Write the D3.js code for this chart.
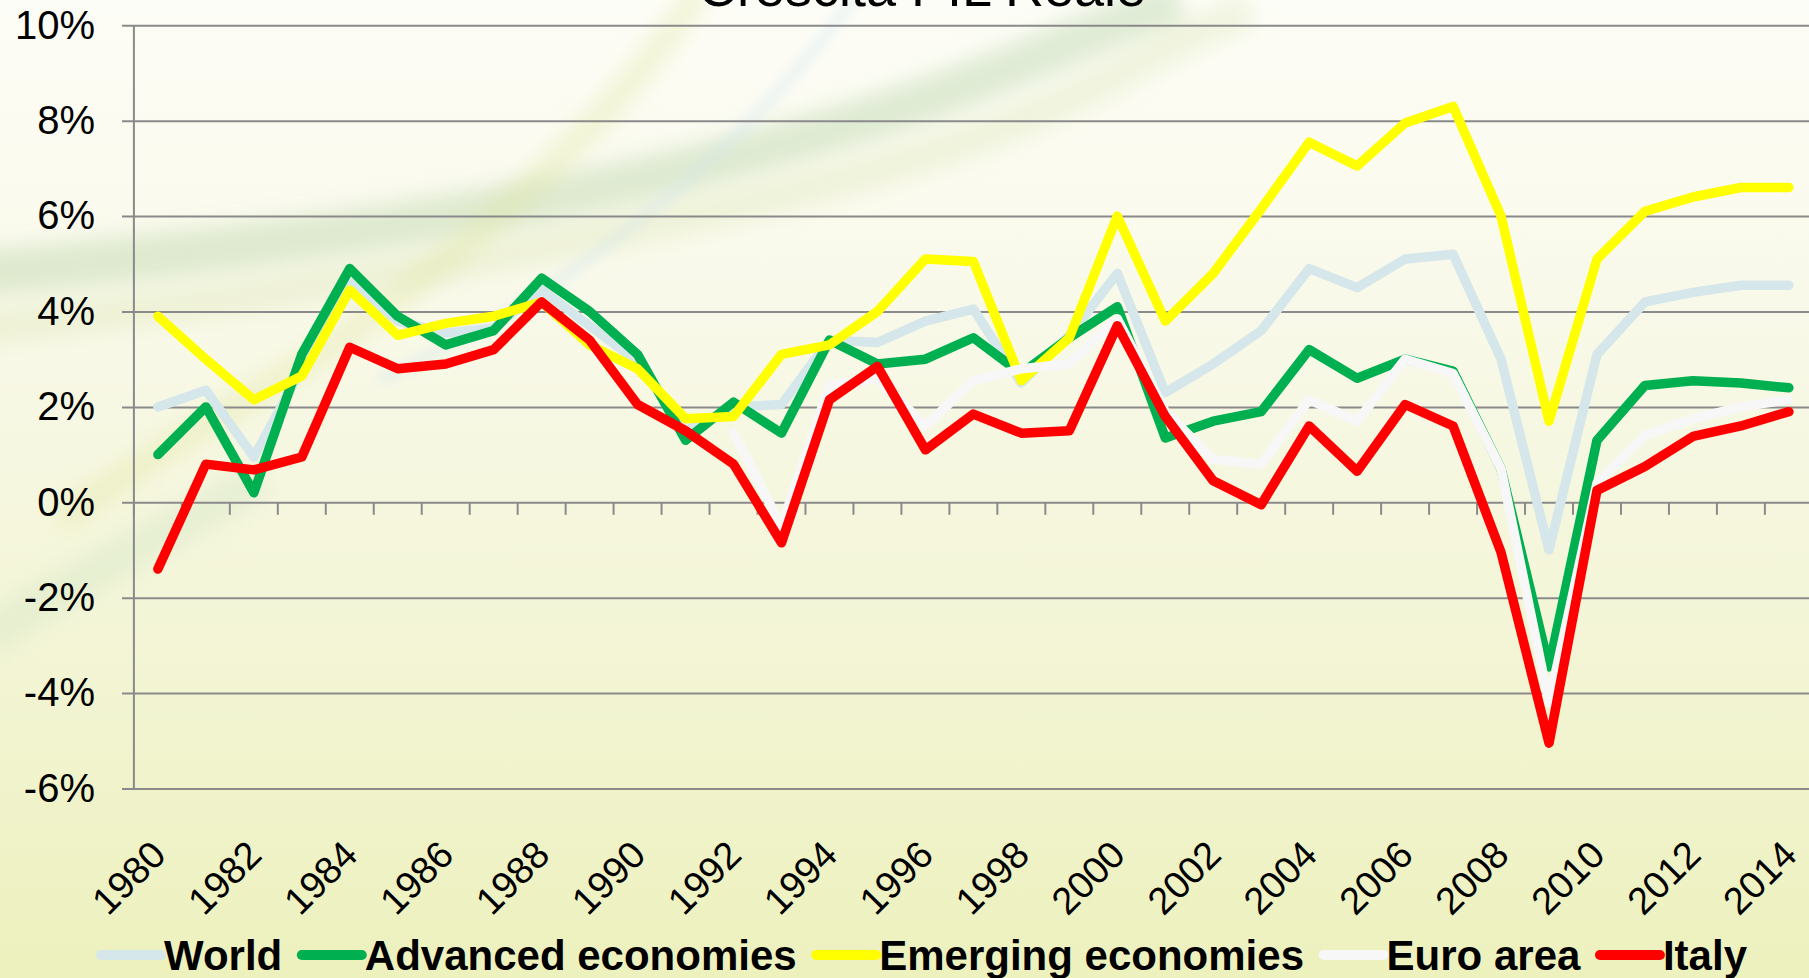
<!DOCTYPE html>
<html><head><meta charset="utf-8">
<script src="https://cdn.jsdelivr.net/npm/d3@7"></script>
<style>html,body{margin:0;padding:0;overflow:hidden;background:#f5f6dc}</style>
</head><body>
<svg id="chart" width="1809" height="978"></svg>
<script>
// ---------------- DATA ----------------
const years = [1980,1981,1982,1983,1984,1985,1986,1987,1988,1989,1990,1991,1992,1993,1994,1995,1996,1997,1998,1999,2000,2001,2002,2003,2004,2005,2006,2007,2008,2009,2010,2011,2012,2013,2014];
const world    = [2.0,2.35,0.95,2.8,4.6,3.8,3.55,3.65,4.45,3.7,2.95,1.5,2.0,2.05,3.4,3.35,3.8,4.05,2.5,3.5,4.8,2.3,2.9,3.6,4.9,4.5,5.1,5.2,3.0,-1.0,3.1,4.2,4.4,4.55,4.55];
const advanced = [1.0,2.0,0.2,3.1,4.9,3.9,3.3,3.6,4.7,4.0,3.1,1.3,2.1,1.45,3.4,2.9,3.0,3.45,2.7,3.45,4.1,1.35,1.7,1.9,3.2,2.6,3.0,2.75,0.7,-3.45,1.3,2.45,2.55,2.5,2.4];
const emerging = [3.9,3.0,2.15,2.65,4.45,3.5,3.75,3.9,4.2,3.3,2.8,1.75,1.8,3.1,3.3,4.0,5.1,5.05,2.55,3.45,6.0,3.8,4.8,6.15,7.55,7.05,7.95,8.3,6.0,1.7,5.1,6.1,6.4,6.6,6.6];
const euroArea = [null,null,null,null,null,null,null,null,null,null,null,null,1.45,-0.5,2.45,2.6,1.6,2.55,2.8,2.9,3.85,1.9,0.9,0.8,2.15,1.7,3.0,2.7,0.7,-4.2,0.4,1.4,1.75,2.0,2.15];
const italy    = [-1.4,0.8,0.68,0.95,3.25,2.8,2.9,3.2,4.2,3.4,2.05,1.5,0.8,-0.85,2.15,2.85,1.1,1.85,1.45,1.5,3.7,1.8,0.45,-0.05,1.6,0.65,2.05,1.6,-1.05,-5.05,0.25,0.75,1.38,1.6,1.9];
const seriesNames  = ["World","Advanced economies","Emerging economies","Euro area","Italy"];
const seriesColors = ["#d5e7ea","#00b050","#ffff00","#f7f7f7","#ff0000"];
const yTicks = [-6,-4,-2,0,2,4,6,8,10];
const xLabelYears = [1980,1982,1984,1986,1988,1990,1992,1994,1996,1998,2000,2002,2004,2006,2008,2010,2012,2014];
const titleText = "Crescita PIL Reale";

// ---------------- DRAW ----------------
const W = 1809, H = 978;
const FONT = "'Liberation Sans', Arial, sans-serif";
const svg = d3.select('#chart');
const defs = svg.append('defs');

const g = defs.append('linearGradient').attr('id','bg').attr('x1',0).attr('y1',0).attr('x2',0).attr('y2',1);
[[0,'#fdfdf7'],[0.3,'#f9f9ea'],[0.65,'#f3f5d6'],[1,'#edf1bd']].forEach(s=>g.append('stop').attr('offset',s[0]).attr('stop-color',s[1]));
svg.append('rect').attr('width',W).attr('height',H).attr('fill','url(#bg)');

// decorative soft swooshes (background)
const f = defs.append('filter').attr('id','blur').attr('x','-50%').attr('y','-50%').attr('width','200%').attr('height','200%');
f.append('feGaussianBlur').attr('stdDeviation',10);
const f2 = defs.append('filter').attr('id','blur2').attr('x','-50%').attr('y','-50%').attr('width','200%').attr('height','200%');
f2.append('feGaussianBlur').attr('stdDeviation',5);
const sw = svg.append('g');
sw.append('path').attr('d','M-40,275 C250,250 520,215 760,150 S1060,40 1180,0')
  .attr('fill','none').attr('stroke','#a8c894').attr('stroke-opacity',0.33).attr('stroke-width',45).attr('filter','url(#blur)');
sw.append('path').attr('d','M-40,330 C250,300 520,260 800,190 S1100,70 1250,10')
  .attr('fill','none').attr('stroke','#d4e2a8').attr('stroke-opacity',0.3).attr('stroke-width',35).attr('filter','url(#blur)');
sw.append('path').attr('d','M700,-10 C640,80 560,170 420,280 S200,420 60,520')
  .attr('fill','none').attr('stroke','#dfe6a0').attr('stroke-opacity',0.35).attr('stroke-width',28).attr('filter','url(#blur)');
sw.append('path').attr('d','M860,-10 C810,60 740,140 640,220 S480,330 380,380')
  .attr('fill','none').attr('stroke','#d2e4ee').attr('stroke-opacity',0.3).attr('stroke-width',14).attr('filter','url(#blur2)');
sw.append('path').attr('d','M-20,640 C60,590 150,540 260,480')
  .attr('fill','none').attr('stroke','#d8e6c8').attr('stroke-opacity',0.45).attr('stroke-width',40).attr('filter','url(#blur)');

const x = d3.scaleBand().domain(years).range([133.9, 133.9 + 35*47.97]).padding(0);
const bw = x.bandwidth();
const y = d3.scaleLinear().domain([-6,10]).range([788.5,25.3]);

// gridlines + y labels
const yAxis = d3.axisLeft(y).tickValues(yTicks).tickSize(-(W-122)).tickPadding(27).tickFormat(d=>d+'%');
const ya = svg.append('g').attr('transform','translate(122,0)').call(yAxis);
ya.select('.domain').remove();
ya.selectAll('.tick line').attr('stroke','#8a8a8a').attr('stroke-width',2);
ya.selectAll('.tick text').attr('font-family',FONT).attr('font-size',40).attr('fill','#000');

// vertical axis line
svg.append('line').attr('x1',133.9).attr('x2',133.9).attr('y1',y(10)).attr('y2',y(-6)).attr('stroke','#8a8a8a').attr('stroke-width',2);

// category tick marks at 0%
const bounds = years.map(d=>x(d)).concat([x(years[years.length-1])+bw]);
svg.append('g').selectAll('line').data(bounds).join('line')
  .attr('x1',d=>d).attr('x2',d=>d).attr('y1',y(0)).attr('y2',y(0)+12.5)
  .attr('stroke','#8a8a8a').attr('stroke-width',2);

// x labels
svg.append('g').selectAll('text').data(xLabelYears).join('text')
  .attr('transform',d=>`translate(${x(d)+bw/2+10},857) rotate(-45)`)
  .attr('text-anchor','end').attr('font-family',FONT).attr('font-size',38).attr('fill','#000')
  .text(d=>d);

// lines
const allSeries = [world, advanced, emerging, euroArea, italy];
const line = d3.line().defined(d=>d!=null).x((d,i)=>x(years[i])+bw/2).y(d=>y(d));
svg.append('g').selectAll('path').data(allSeries).join('path')
  .attr('d',d=>line(d)).attr('fill','none')
  .attr('stroke',(d,i)=>seriesColors[i]).attr('stroke-width',9.5)
  .attr('stroke-linejoin','round').attr('stroke-linecap','round');

// title (cut at top, as in the reference)
svg.append('text').attr('x',922).attr('y',6).attr('text-anchor','middle')
  .attr('font-family',FONT).attr('font-size',54).attr('fill','#000').text(titleText);

// legend
const lg = svg.append('g');
const items = lg.selectAll('g').data(seriesNames).join('g');
items.append('line').attr('x1',0).attr('x2',60).attr('y1',0).attr('y2',0)
  .attr('stroke',(d,i)=>seriesColors[i]).attr('stroke-width',10).attr('stroke-linecap','round');
items.append('text').attr('x',63).attr('y',15).attr('font-family',FONT).attr('font-weight','bold')
  .attr('font-size',42).attr('fill','#000').text(d=>d);
let cx = 101;
const widths = [];
items.each(function(){ widths.push(this.querySelector('text').getComputedTextLength()); });
const totalW = widths.reduce((a,b)=>a+b,0) + 63*widths.length;
const gap = (1747 - 101 - totalW)/(widths.length-1);
items.attr('transform',(d,i)=>{ const t=`translate(${cx},955)`; cx += 63 + widths[i] + gap; return t; });
</script>
</body></html>
